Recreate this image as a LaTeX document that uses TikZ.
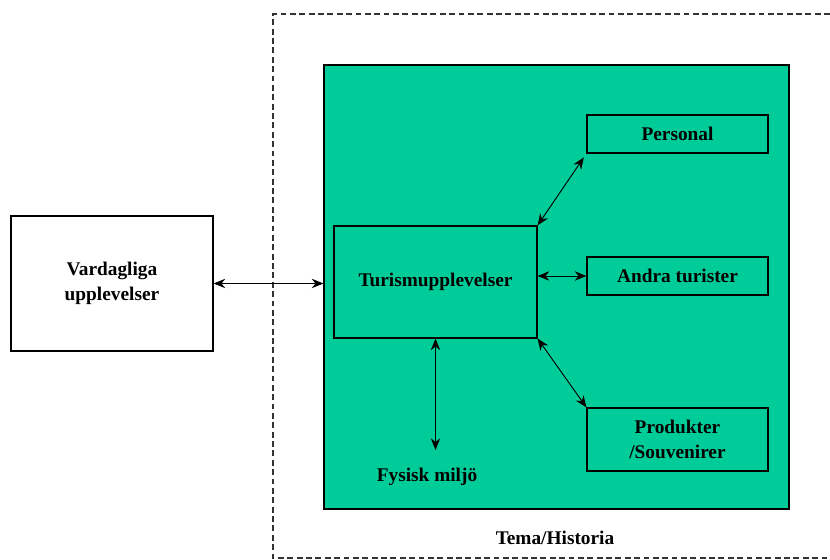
\documentclass[tikz,border=0pt]{standalone}
\usepackage{fontspec}
\setmainfont{Liberation Serif}
\usepackage{tikz}
\usetikzlibrary{arrows.meta}
\definecolor{turgreen}{RGB}{0,204,153}
\tikzset{
  ruta/.style={draw,line width=0.9pt,align=center,font=\bfseries\fontsize{16.5}{21}\selectfont},
  pil/.style={<->,>={Stealth[length=10pt,width=8pt]},line width=0.8pt},
  etikett/.style={font=\bfseries\fontsize{16.5}{21}\selectfont}
}
\begin{document}
\begin{tikzpicture}[x=0.03cm,y=0.03cm]
	\useasboundingbox (0,0) rectangle (830,560);
	% ram for tema
	\draw[dashed,dash pattern=on 5pt off 3pt,line width=1pt,black!80] (830,546)--(273,546)--(273,2)--(830,2);
	\node[ruta,fill=turgreen,minimum width=13.95cm,minimum height=13.32cm] (green) at (556.5,273) {};
	\node[ruta,fill=white,minimum width=6.06cm,minimum height=4.05cm] (vard) at (112,276.5) {Vardagliga\\upplevelser};
	\node[ruta,minimum width=6.09cm,minimum height=3.36cm] (turism) at (435.5,278) {Turismupplevelser};
	\node[ruta,minimum width=5.43cm,minimum height=1.14cm] (personal) at (677.5,426) {Personal};
	\node[ruta,minimum width=5.43cm,minimum height=1.14cm] (andra) at (677.5,284) {Andra turister};
	\node[ruta,minimum width=5.43cm,minimum height=1.89cm] (produkter) at (677.5,120.5) {Produkter\\/Souvenirer};
	\node[etikett] (fysisk) at (427,83) {Fysisk milj\"o};
	\node[etikett] (tema) at (555,22) {Tema/Historia};
	% pilar
	\draw[pil] (vard.east)--(vard.east -| green.west);
	\draw[pil] (turism.east |- andra.west)--(andra.west);
	\draw[pil,shorten >=4pt] (turism.north east)--(personal.south west);
	\draw[pil] (turism.south east)--(produkter.north west);
	\draw[pil,shorten >=12pt] (turism.south)--(turism.south |- fysisk.north);
\end{tikzpicture}
\end{document}
